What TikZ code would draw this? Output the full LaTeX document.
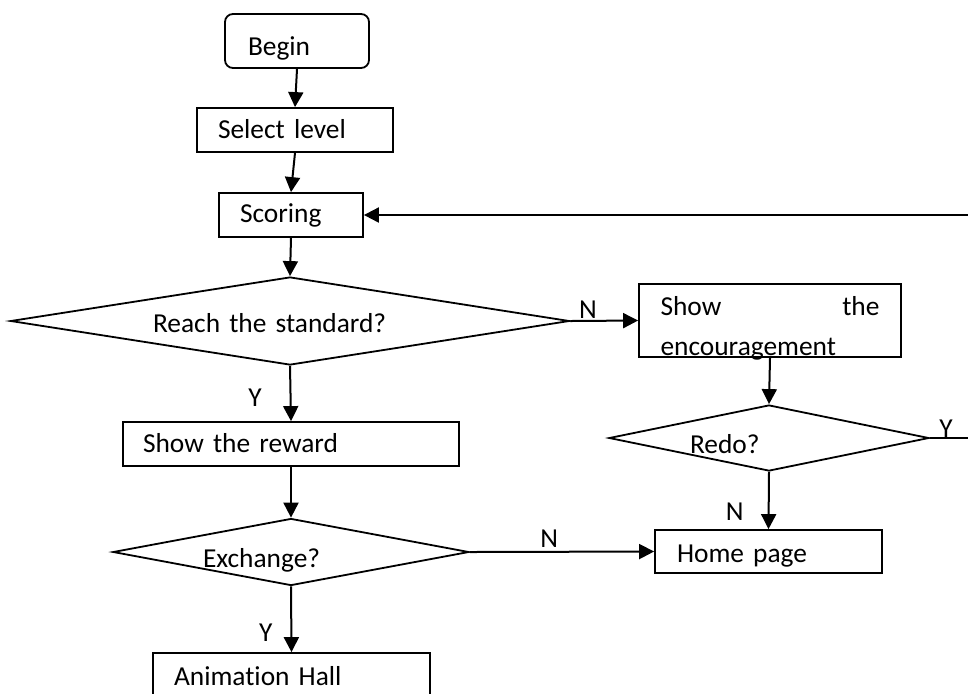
\documentclass[tikz,border=0pt]{standalone}
\usepackage{fontspec}
\setmainfont{Carlito}[Ligatures=NoCommon]
\usepackage{tikz}
\usetikzlibrary{shapes.geometric, arrows.meta, positioning}

\begin{document}
\begin{tikzpicture}[x=0.5pt, y=-0.5pt]
        \tikzstyle{process} = [rectangle, draw=black, line width=0.9pt, inner sep=0pt, align=left, font=\fontsize{13.7pt}{20pt}\selectfont]
        \tikzstyle{decision} = [diamond, draw=black, line width=0.9pt, inner sep=0pt, align=left, text depth=0pt, font=\fontsize{13.7pt}{20pt}\selectfont]
        \tikzstyle{arrow} = [line width=1pt, -{Triangle[length=7.5pt, width=7.5pt]}]
        \tikzstyle{yn} = [inner sep=0pt, font=\fontsize{13.7pt}{20pt}\selectfont]

        \useasboundingbox (0,0) rectangle (968,693);

        \node (begin) [process, rounded corners=4pt, minimum width=72pt, minimum height=27pt, text width=49pt, text height=15.5pt, text depth=1.5pt] at (297,41) {Begin};
        \node (select) [process, minimum width=98pt, minimum height=22pt, text width=77pt, text height=9.5pt, text depth=1.5pt] at (295,130) {Select level};
        \node (scoring) [process, minimum width=72pt, minimum height=22pt, text width=51pt, text height=9.5pt, text depth=2.5pt] at (291,215) {Scoring};
        \node (reach) [decision, aspect=6, minimum width=279.5pt, minimum height=44pt, text width=137pt, text height=11pt] at (290,321) {Reach the standard?};
        \node (encour) [process, minimum width=131pt, minimum height=36.5pt, text width=109.5pt, text height=14.5pt, text depth=20pt] at (770,320.5) {Show\hfill the\\encouragement};
        \node (redo) [decision, aspect=4.8, minimum width=160pt, minimum height=33pt, text width=79pt, text height=15pt] at (769,438) {Redo?};
        \node (reward) [process, minimum width=168pt, minimum height=22pt, text width=148pt, text height=9.5pt, text depth=1.5pt] at (291,444) {Show the reward};
        \node (exchange) [decision, aspect=5.4, minimum width=178pt, minimum height=33.5pt, text width=88pt, text height=15pt] at (291,552) {Exchange?};
        \node (home) [process, minimum width=113.5pt, minimum height=21.5pt, text width=91.5pt, text height=12pt, text depth=1.5pt] at (768.5,551.5) {Home page};
        \node (anim) [process, minimum width=138.5pt, minimum height=23.5pt, text width=117.5pt, text height=10pt, text depth=1.5pt] at (291.5,676.5) {Animation Hall};

        \draw [arrow] (begin.south) -- (select.north);
        \draw [arrow] (select.south) -- (scoring.north);
        \draw [arrow] (scoring.south) -- (reach.north);
        \draw [arrow] (reach.east) -- node[yn, pos=0.26, anchor=base, yshift=1pt] {N} (encour.west);
        \draw [arrow] (encour.south) -- (redo.north);
        \draw [arrow] (reach.south) -- node[yn, pos=0.74, anchor=base east, xshift=-14pt] {Y} (reward.north);
        \draw [arrow] (reward.south) -- (exchange.north);
        \draw [arrow] (exchange.east) -- node[yn, pos=0.43, anchor=base, yshift=2pt] {N} (home.west);
        \draw [arrow] (redo.south) -- node[yn, pos=0.85, anchor=base east, xshift=-12pt] {N} (home.north);
        \draw [arrow] (exchange.south) -- node[yn, pos=0.84, anchor=base east, xshift=-9pt] {Y} (anim.north);
        \draw [arrow] (redo.east) -- node[yn, pos=0.27, anchor=base, yshift=0.5pt] {Y} ++(60,0) |- (scoring.east);
\end{tikzpicture}
\end{document}
